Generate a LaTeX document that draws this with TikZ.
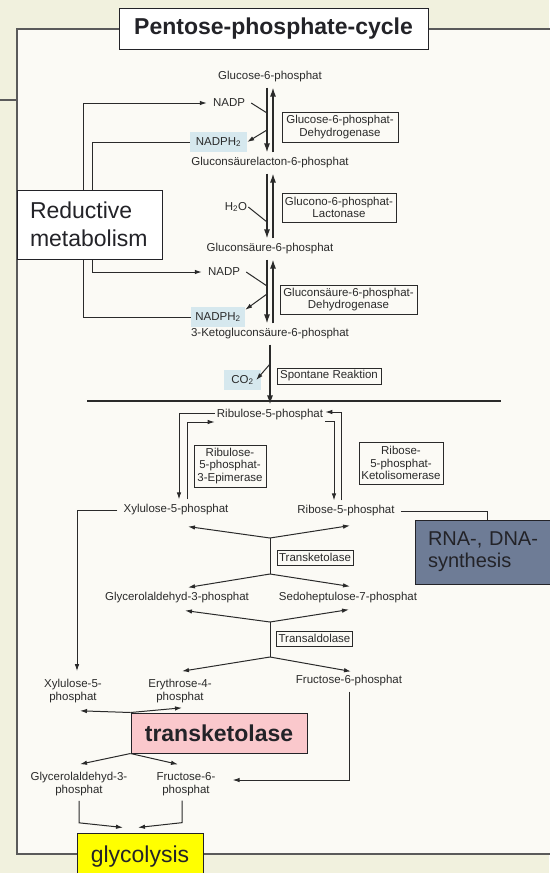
\documentclass[tikz,border=0pt]{standalone}
\usepackage{fontspec}
\setmainfont{Liberation Sans}
\usepackage{tikz}
\usetikzlibrary{arrows.meta, calc}
\definecolor{SlideBeige}{RGB}{241,241,222}
\definecolor{PaperWhite}{RGB}{251,250,245}
\definecolor{PaperEdge}{RGB}{90,90,90}
\definecolor{ScanInk}{RGB}{42,42,42}
\definecolor{HighlightBlue}{RGB}{214,232,238}
\definecolor{SlateBlue}{RGB}{110,124,150}
\definecolor{TransPink}{RGB}{250,200,204}
\definecolor{LabelYellow}{RGB}{255,255,0}
\definecolor{LabelInk}{RGB}{35,35,40}

\begin{document}
\begin{tikzpicture}[x=1pt, y=-1pt,
	metab/.style={text=ScanInk, font=\fontsize{11.5}{12.5}\selectfont, inner xsep=6pt, inner ysep=5pt, align=center},
	enzima/.style={draw=ScanInk, line width=0.8pt, text=ScanInk, font=\fontsize{11.5}{12.5}\selectfont,
		inner sep=1pt, align=center},
	resalte/.style={fill=HighlightBlue, text=ScanInk, font=\fontsize{11.5}{12.5}\selectfont, inner sep=1pt},
	caja/.style={draw=LabelInk, line width=1pt, text=LabelInk, inner sep=0pt},
	flecha/.style={-{Latex[length=7pt, width=4.5pt]}, line width=1pt, ScanInk},
	flechaG/.style={-{Latex[length=9pt, width=6pt]}, line width=1.3pt, ScanInk},
	linea/.style={line width=1pt, ScanInk}]
	\useasboundingbox (0,0) rectangle (549,873);
	\fill[SlideBeige] (0,0) rectangle (549,873);
	\draw[PaperEdge, line width=1.2pt, fill=PaperWhite] (17,29) rectangle (553,854);
	\draw[PaperEdge, line width=1.2pt] (0,100) -- (17,100);

	\node[metab] (g6p) at (270,77) {Glucose-6-phosphat};
	\node[metab] (lacton) at (270,163) {Gluconsäurelacton-6-phosphat};
	\node[metab] (gluc) at (270,249) {Gluconsäure-6-phosphat};
	\node[metab] (keto) at (270,334) {3-Ketogluconsäure-6-phosphat};
	\node[metab, inner xsep=2pt] (ribu) at (270,415) {Ribulose-5-phosphat};

	\node[metab] (nadpA) at (229,103) {NADP};
	\node[resalte, minimum width=57pt, minimum height=20pt] (nadphA) at (218.5,142) {NADPH\textsubscript{2}};
	\node[metab, inner xsep=1pt] (h2o) at (236,207) {H\textsubscript{2}O};
	\node[metab] (nadpB) at (224,272) {NADP};
	\node[resalte, minimum width=54pt, minimum height=20pt] (nadphB) at (218,317) {NADPH\textsubscript{2}};
	\node[resalte, minimum width=37pt, minimum height=20pt] (co2) at (242.5,380) {CO\textsubscript{2}};

	\node[enzima, minimum width=116pt, minimum height=30pt] (enzA) at (340,127) {Glucose-6-phosphat-\\Dehydrogenase};
	\node[enzima, minimum width=114pt, minimum height=29pt] (enzB) at (339,207.5) {Glucono-6-phosphat-\\Lactonase};
	\node[enzima, minimum width=137pt, minimum height=29pt] (enzC) at (348.5,299.5) {Gluconsäure-6-phosphat-\\Dehydrogenase};
	\node[enzima, minimum width=104pt, minimum height=16pt] (enzD) at (329,376) {Spontane Reaktion};
	\node[enzima, minimum width=72pt, minimum height=42pt] (enzE) at (230,466) {Ribulose-\\5-phosphat-\\3-Epimerase};
	\node[enzima, minimum width=84pt, minimum height=42pt] (enzF) at (401,463) {Ribose-\\5-phosphat-\\Ketolisomerase};
	\node[enzima, minimum width=76pt, minimum height=15pt] (enzG) at (315,557.5) {Transketolase};
	\node[enzima, minimum width=76pt, minimum height=15pt] (enzH) at (314.5,638.5) {Transaldolase};

	\node[metab] (xyl) at (176,510) {Xylulose-5-phosphat};
	\node[metab] (ribo) at (346,511) {Ribose-5-phosphat};
	\node[metab] (gap) at (177,598) {Glycerolaldehyd-3-phosphat};
	\node[metab] (sedo) at (348,598) {Sedoheptulose-7-phosphat};
	\node[metab] (xylB) at (73,691) {Xylulose-5-\\phosphat};
	\node[metab] (ery) at (180,691) {Erythrose-4-\\phosphat};
	\node[metab] (fru) at (349,681) {Fructose-6-phosphat};
	\node[metab] (gapB) at (79,784) {Glycerolaldehyd-3-\\phosphat};
	\node[metab] (fruB) at (186,784) {Fructose-6-\\phosphat};

	\node[caja, fill=TransPink, minimum width=176pt, minimum height=40pt, font=\fontsize{23}{27}\selectfont\bfseries] (trk) at (219,733) {transketolase};
	\node[caja, fill=LabelYellow, minimum width=126pt, minimum height=47pt, font=\fontsize{23}{27}\selectfont] (glyc) at (140,856.5) {glycolysis};

	\coordinate (jA) at (267,113);
	\coordinate (jB) at (267,130);
	\coordinate (jC) at (267,222);
	\coordinate (jD) at (267,286);
	\coordinate (jE) at (267,294);
	\coordinate (jF) at (270,364);
	\coordinate (tkA) at (270,538);
	\coordinate (tkB) at (270,574);
	\coordinate (taA) at (270,622);
	\coordinate (taB) at (270,657);

	\draw[flechaG] ([xshift=-3pt]g6p.south) -- ([xshift=-3pt]lacton.north);
	\draw[flechaG] ([xshift=3pt]lacton.north) -- ([xshift=3pt]g6p.south);
	\draw[flechaG] ([xshift=-3pt]lacton.south) -- ([xshift=-3pt]gluc.north);
	\draw[flechaG] ([xshift=3pt]gluc.north) -- ([xshift=3pt]lacton.south);
	\draw[flechaG] ([xshift=-3pt]gluc.south) -- ([xshift=-3pt]keto.north);
	\draw[flechaG] ([xshift=3pt]keto.north) -- ([xshift=3pt]gluc.south);
	\draw[flechaG] (keto) -- (ribu);
	\draw[line width=1.3pt, ScanInk] (87,401) -- (501,401);

	\draw[linea] (nadpA.east) -- (jA);
	\draw[flecha] (jB) -- (nadphA.east);
	\draw[linea] (h2o.east) -- (jC);
	\draw[linea] (nadpB.east) -- (jD);
	\draw[flecha] (jE) -- ([yshift=-3pt]nadphB.north east);
	\draw[flecha] (jF) -- ([xshift=-5pt]co2.east);
	\draw[flecha] (nadphA.west) -- ++(-97,0) |- (nadpB.west);
	\draw[flecha] (nadphB.west) -- ++(-107,0) |- (nadpA.west);

	\draw[flecha] ([yshift=2pt]ribu.west) -| ([xshift=3pt]xyl.north);
	\draw[flecha] ([xshift=11pt]xyl.north) |- ([yshift=-7pt]ribu.west);
	\draw[flecha] ([xshift=-5pt]ribo.north) |- ([yshift=3pt]ribu.east);
	\draw[flecha] ([yshift=-6pt]ribu.east) -| ([xshift=-12pt]ribo.north);

	\draw[linea] (tkA) -- (tkB);
	\draw[flecha] (tkA) -- ($(xyl.south)+(12,6)$);
	\draw[flecha] (tkA) -- ($(ribo.south)+(4,4)$);
	\draw[flecha] (tkB) -- ($(gap.north)+(11,0)$);
	\draw[flecha] (tkB) -- ($(sedo.north)+(2,-1)$);
	\draw[linea] (taA) -- (taB);
	\draw[flecha] (taA) -- ($(gap.south)+(8,2)$);
	\draw[flecha] (taA) -- ($(sedo.south)+(1,1)$);
	\draw[flecha] (taB) -- ($(ery.north)+(2,-3)$);
	\draw[flecha] (taB) -- ($(fru.north)+(2,1)$);

	\draw[flecha] (xyl.west) -| ($(xylB.north)+(4,-3)$);
	\draw[flecha] (fru.south) |- ($(fruB.east)+(11,-4)$);
	\draw[flecha] (trk.north west) -- ($(xylB.south)+(7,3)$);
	\draw[flecha] (trk.north west) -- ($(ery.south)+(2,0)$);
	\draw[flecha] (trk.south west) -- ($(gapB.north)+(1,-3)$);
	\draw[flecha] (trk.south west) -- ($(fruB.north)+(-8,-3)$);
	\draw[flecha] (gapB.south) -- ++(0,22) -- ($(glyc.north)+(-17,-5)$);
	\draw[flecha] ([xshift=-4pt]fruB.south) -- ++(0,22) -- ($(glyc.north)+(-2,-5)$);

	\node[caja, fill=white, minimum width=309pt, minimum height=41pt, font=\fontsize{23}{27}\selectfont\bfseries] (titulo) at (273.5,28.5) {Pentose-phosphate-cycle};
	\node[caja, fill=white, minimum height=69pt, text width=119pt, inner xsep=13pt, align=left,
		font=\fontsize{23}{28}\selectfont] (reduct) at (89.5,224.5) {Reductive\\metabolism};
	\node[caja, fill=SlateBlue, minimum height=64pt, text width=119pt, inner xsep=13pt, align=left,
		font=\fontsize{20}{22}\selectfont] (rna) at (487.5,552) {RNA-, DNA-\\synthesis};
	\draw[linea] (ribo.east) -| (rna.north);
\end{tikzpicture}
\end{document}
